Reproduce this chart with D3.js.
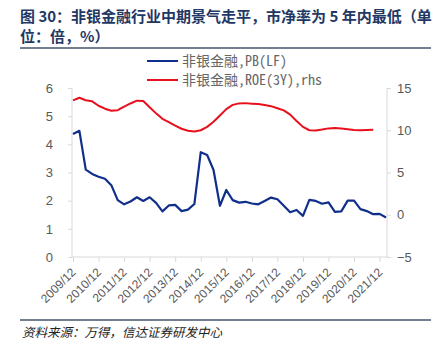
<!DOCTYPE html>
<html>
<head>
<meta charset="utf-8">
<script src="https://cdn.jsdelivr.net/npm/d3@7"></script>
<style>
  html, body { margin: 0; padding: 0; background: #fff; }
  svg { display: block; }
</style>
</head>
<body>
<svg id="chart" width="441" height="350"></svg>
<script>
// Quarterly observation dates
const dates = [
  "2009/12","2010/03","2010/06","2010/09","2010/12","2011/03","2011/06","2011/09",
  "2011/12","2012/03","2012/06","2012/09","2012/12","2013/03","2013/06","2013/09",
  "2013/12","2014/03","2014/06","2014/09","2014/12","2015/03","2015/06","2015/09",
  "2015/12","2016/03","2016/06","2016/09","2016/12","2017/03","2017/06","2017/09",
  "2017/12","2018/03","2018/06","2018/09","2018/12","2019/03","2019/06","2019/09",
  "2019/12","2020/03","2020/06","2020/09","2020/12","2021/03","2021/06","2021/09",
  "2021/12","2022/03"
];

// 非银金融 PB(LF), left axis (倍)
const pbValues = [
  4.37, 4.48, 3.10, 2.95, 2.85, 2.78, 2.55, 2.02,
  1.87, 1.97, 2.12, 1.99, 2.12, 1.92, 1.62, 1.83,
  1.85, 1.63, 1.68, 1.88, 3.72, 3.62, 3.09, 1.82,
  2.38, 2.02, 1.93, 1.96, 1.90, 1.87, 1.99, 2.11,
  2.05, 1.82, 1.59, 1.67, 1.46, 2.03, 1.99, 1.89,
  1.94, 1.60, 1.62, 2.00, 2.00, 1.70, 1.63, 1.52,
  1.53, 1.40
];

// 非银金融 ROE(3Y), right axis (%)
const roeValues = [
  13.54, 13.85, 13.55, 13.42, 12.90, 12.55, 12.30, 12.38,
  12.80, 13.17, 13.50, 13.47, 12.72, 12.00, 11.35, 10.95,
  10.55, 10.18, 9.95, 9.84, 10.00, 10.40, 11.00, 11.75,
  12.50, 13.00, 13.18, 13.21, 13.15, 13.10, 13.00, 12.85,
  12.60, 12.35, 11.85, 11.10, 10.40, 10.00, 9.96, 10.08,
  10.22, 10.26, 10.20, 10.12, 10.03, 9.99, 10.03, 10.07
];

// Axis tick labels
const xTickLabels = ["2009/12","2010/12","2011/12","2012/12","2013/12","2014/12",
  "2015/12","2016/12","2017/12","2018/12","2019/12","2020/12","2021/12"];
const leftTicks = [0, 1, 2, 3, 4, 5, 6];
const rightTicks = [-5, 0, 5, 10, 15];

const titleLines = ["图 30：非银金融行业中期景气走平，市净率为 5 年内最低（单", "位：倍，%）"];
const seriesNames = ["非银金融,PB(LF)", "非银金融,ROE(3Y),rhs"];
const sourceText = "资料来源：万得，信达证券研发中心";

const colors = { pb: "#0f2f8a", roe: "#e8101c", axis: "#d9d9d9", tick: "#595959", title: "#1f3864" };

const svg = d3.select("#chart");
const plot = { left: 73, right: 387, top: 88, bottom: 257 };

const x = d3.scalePoint().domain(dates).range([plot.left, 386]);
const yL = d3.scaleLinear().domain([0, 6]).range([plot.bottom, plot.top]);
const yR = d3.scaleLinear().domain([-5, 15]).range([plot.bottom, plot.top]);

// Title
const title = svg.append("text")
  .attr("font-family", "'Noto Sans CJK SC', sans-serif")
  .attr("font-weight", "bold")
  .attr("font-size", 15)
  .attr("fill", colors.title);
titleLines.forEach((t, i) => {
  title.append("tspan").attr("x", 20).attr("y", 22 + i * 20).text(t);
});
svg.append("line").attr("x1", 20).attr("x2", 431).attr("y1", 48).attr("y2", 48)
  .attr("stroke", "#44546a").attr("stroke-width", 1.5);

// Left axis
const gL = svg.append("g").attr("transform", `translate(${plot.left - 1},0)`)
  .call(d3.axisLeft(yL).tickValues(leftTicks).tickSize(4).tickPadding(15).tickFormat(d3.format("d")));
// Right axis
const gR = svg.append("g").attr("transform", `translate(${plot.right},0)`)
  .call(d3.axisRight(yR).tickValues(rightTicks).tickSize(4).tickPadding(6)
    .tickFormat(d => d < 0 ? "\u2212" + Math.abs(d) : d));
// Bottom axis
const gB = svg.append("g").attr("transform", `translate(0,${plot.bottom})`)
  .call(d3.axisBottom(x).tickValues(xTickLabels).tickSize(5).tickSizeOuter(0));

[gL, gR, gB].forEach(g => {
  g.select(".domain").attr("stroke", colors.axis).attr("stroke-width", 1);
  g.selectAll(".tick line").attr("stroke", colors.axis);
  g.selectAll(".tick text").attr("fill", colors.tick)
    .attr("font-family", "'Liberation Sans', Arial, sans-serif").attr("font-size", 13);
});
gL.select(".domain").attr("d", `M0,${plot.bottom}V${plot.top}`);
gR.select(".domain").attr("d", `M0,${plot.bottom}V${plot.top}`);
gB.select(".domain").attr("d", `M${plot.left - 1},0H${plot.right}`);
gB.selectAll(".tick text")
  .attr("font-size", 12)
  .attr("text-anchor", "end")
  .attr("dy", null)
  .attr("y", null)
  .attr("transform", "translate(3,16) rotate(-45)");

// Lines
const pbLine = d3.line().x((d, i) => x(dates[i])).y(d => yL(d));
const roeLine = d3.line().x((d, i) => x(dates[i])).y(d => yR(d));
svg.append("path").datum(roeValues).attr("d", roeLine)
  .attr("fill", "none").attr("stroke", colors.roe).attr("stroke-width", 2).attr("stroke-linejoin", "round");
svg.append("path").datum(pbValues).attr("d", pbLine)
  .attr("fill", "none").attr("stroke", colors.pb).attr("stroke-width", 2.2).attr("stroke-linejoin", "round");

// Legend
const legend = svg.append("g");
[[colors.pb, seriesNames[0]], [colors.roe, seriesNames[1]]].forEach(([c, name], i) => {
  const yy = 61 + i * 19;
  legend.append("line").attr("x1", 147).attr("x2", 178).attr("y1", yy).attr("y2", yy)
    .attr("stroke", c).attr("stroke-width", 2);
  legend.append("text").attr("x", 182).attr("y", yy + 5)
    .attr("font-family", "'Noto Sans Mono CJK SC', 'Noto Sans CJK SC', sans-serif").attr("font-size", 14)
    .attr("fill", "#666").text(name);
});

// Source
svg.append("line").attr("x1", 20).attr("x2", 431).attr("y1", 320).attr("y2", 320)
  .attr("stroke", "#44546a").attr("stroke-width", 1.5);
svg.append("text").attr("x", 22).attr("y", 337)
  .attr("font-family", "'Noto Sans CJK SC', sans-serif").attr("font-size", 12.5)
  .attr("font-style", "italic").attr("fill", "#222").text(sourceText);
</script>
</body>
</html>
